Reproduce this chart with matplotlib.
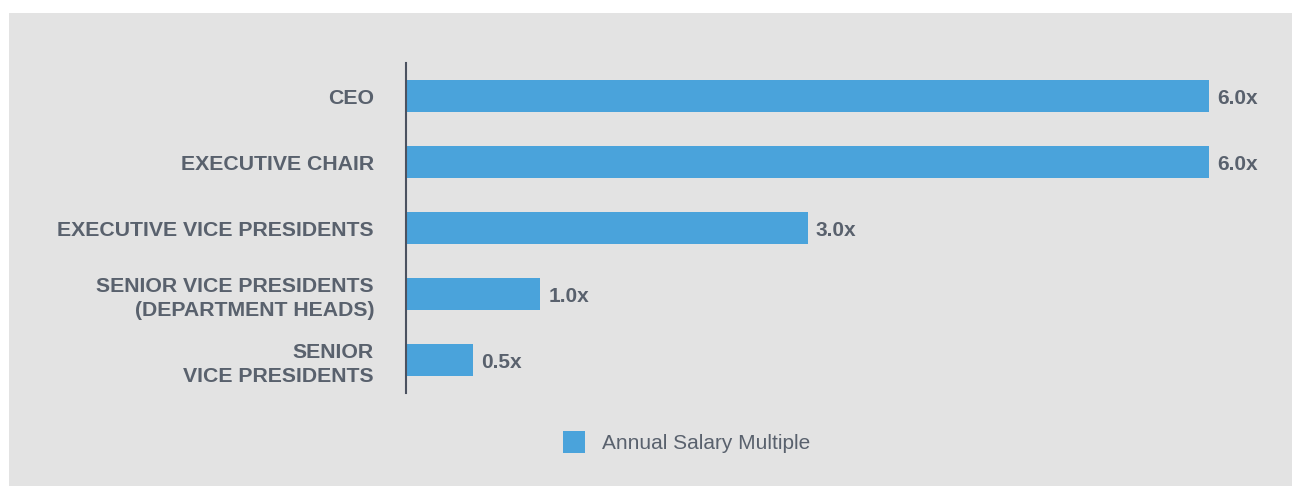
import matplotlib
matplotlib.use("Agg")
import matplotlib.pyplot as plt
from matplotlib.patches import Rectangle
from matplotlib.transforms import ScaledTranslation

roles = ["CEO", "EXECUTIVE CHAIR", "EXECUTIVE VICE PRESIDENTS",
        "SENIOR VICE PRESIDENTS\n(DEPARTMENT HEADS)", "SENIOR\nVICE PRESIDENTS"]
multiples = [6.0, 6.0, 3.0, 1.0, 0.5]
series_name = "Annual Salary Multiple"

BAR = "#4aa3db"
PANEL = "#e3e3e3"
TEXT = "#59616d"
SPINE = "#4b5260"

W, H = 1292, 486
plt.rcParams["font.family"] = ["Liberation Sans", "DejaVu Sans"]

fig = plt.figure(figsize=(W / 100, H / 100), dpi=100)
fig.patch.set_facecolor("white")
# grey panel behind everything, white strip on left and top
fig.patches.append(Rectangle((9 / W, 0), 1 - 9 / W, 1 - 13 / H,
        transform=fig.transFigure, facecolor=PANEL, edgecolor="none", zorder=-10))

ax = fig.add_axes([406 / W, 93 / H, (1250 - 406) / W, 330 / H])
ax.set_facecolor("none")
ax.set_zorder(2)

y_pos = list(range(len(roles)))
bars = ax.barh(y_pos, multiples, height=0.485, color=BAR, label=series_name)
vals = ax.bar_label(bars, labels=["%.1fx" % v for v in multiples], padding=6,
        fontsize=15, fontweight="bold", color=TEXT)
for t in vals:
    t.xyann = (6, -1.5)

ax.set_xlim(0, 6.0 * (1250 - 406) / 803)
ax.set_ylim(len(roles) - 0.5, -0.5)
ax.set_yticks(y_pos)
ax.set_yticklabels(roles, fontsize=15.3, fontweight="bold", color=TEXT,
        linespacing=1.36)
# nudge single-line labels down a touch
shift = ScaledTranslation(0, -1.5 / 72, fig.dpi_scale_trans)
for lab in ax.get_yticklabels():
    if "\n" not in lab.get_text():
        lab.set_transform(lab.get_transform() + shift)
ax.tick_params(axis="y", length=0, pad=23)
ax.set_xticks([])
for side in ["top", "right", "bottom"]:
    ax.spines[side].set_visible(False)
ax.spines["left"].set_color(SPINE)
ax.spines["left"].set_linewidth(1.5)

leg = fig.legend(loc="center", bbox_to_anchor=(687 / W, 1 - 442 / H), frameon=False,
        fontsize=15, labelcolor=TEXT, handlelength=1.06, handleheight=1.2,
        handletextpad=0.82, borderpad=0)
leg.set_zorder(3)

fig.savefig("out.png", dpi=100, facecolor=fig.get_facecolor())
